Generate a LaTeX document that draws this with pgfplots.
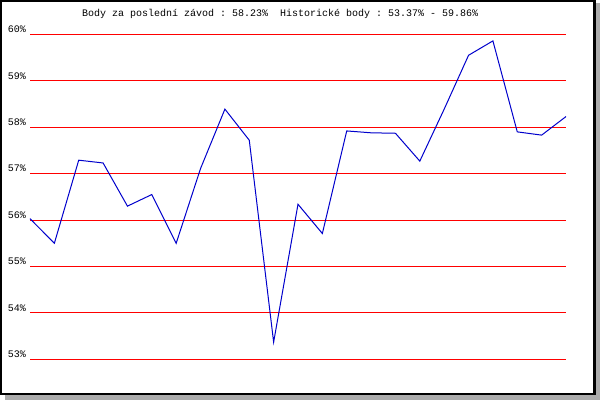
\documentclass[border=0pt]{standalone}
\usepackage{pgfplots}
\pgfplotsset{compat=1.18}
\usepackage{fontspec}
\setmonofont{Liberation Mono}
\begin{document}
\begin{tikzpicture}[x=1pt,y=1pt]
\useasboundingbox (0,0) rectangle (600,400);
% shadow
\fill[black!33] (5,0) rectangle (600,5);
\fill[black!33] (596,0) rectangle (600,397);
% frame
\fill[white] (0,5) rectangle (596,400);
\draw[line width=2.4pt,black] (1.2,6.2) rectangle (594.6,398.8);
\begin{axis}[
  at={(30pt,40.7pt)}, anchor=south west,
  scale only axis, width=536pt, height=324.9pt,
  xmin=0, xmax=22, ymin=53, ymax=60,
  axis line style={draw=none},
  xtick=\empty,
  ytick={53,54,55,56,57,58,59,60},
  yticklabels={53\%,54\%,55\%,56\%,57\%,58\%,59\%,60\%},
  major tick length=0pt,
  ymajorgrids,
  major grid style={red, line width=1pt},
  yticklabel style={font=\ttfamily\fontsize{10}{12}\selectfont, anchor=east, inner sep=0pt, xshift=-4pt, yshift=5pt},
  clip=false,
]
\addplot[color=blue!80!black, line width=1pt, mark=none] coordinates {
(0,56.03) (1,55.50) (2,57.29) (3,57.23) (4,56.30) (5,56.55) (6,55.50)
(7,57.11) (8,58.39) (9,57.72) (10,53.37) (11,56.34) (12,55.71) (13,57.92)
(14,57.88) (15,57.87) (16,57.27) (17,58.39) (18,59.55) (19,59.86)
(20,57.90) (21,57.83) (22,58.23)
};
\end{axis}
\node[anchor=west, inner sep=0pt, font=\ttfamily\fontsize{10}{12}\selectfont] at (82,386.5) {Body za poslední závod : 58.23\%~ Historické body : 53.37\% - 59.86\%};
\end{tikzpicture}
\end{document}
